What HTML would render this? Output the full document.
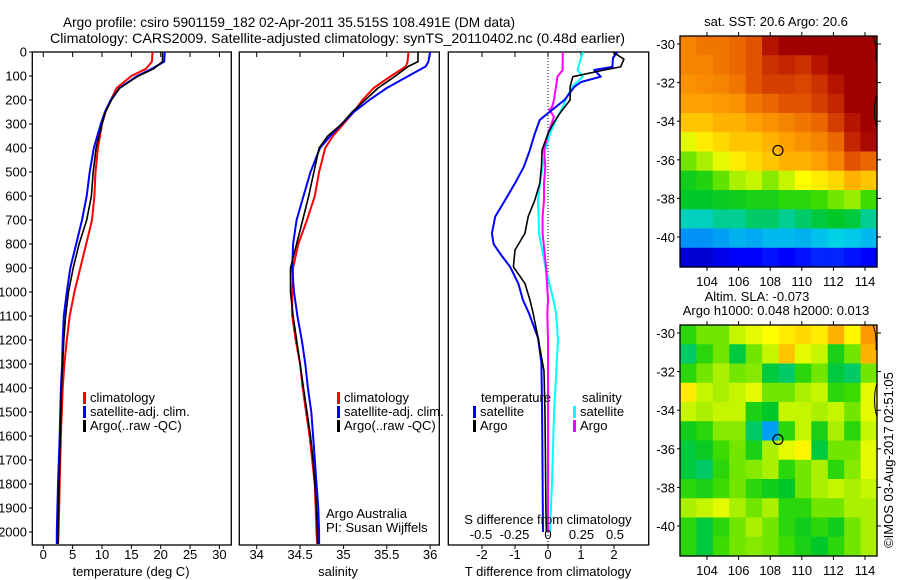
<!DOCTYPE html>
<html><head><meta charset="utf-8"><style>
html,body{margin:0;padding:0;background:#fff;}
svg{display:block;font-family:"Liberation Sans",Arial,sans-serif;}
text{font-size:13px;fill:#000;}
</style></head><body>
<svg id="chart" width="900" height="580" viewBox="0 0 900 580" xmlns="http://www.w3.org/2000/svg">
<text x="63" y="27" textLength="452" lengthAdjust="spacingAndGlyphs" style="font-size:14px">Argo profile: csiro 5901159_182 02-Apr-2011 35.515S 108.491E (DM data)</text>
<text x="50" y="43" textLength="575" lengthAdjust="spacingAndGlyphs" style="font-size:14px">Climatology: CARS2009. Satellite-adjusted climatology: synTS_20110402.nc (0.48d earlier)</text>
<g id="g"></g>
</svg>
<script>
// ---------------- data ----------------
const tDepth = [0,40,70,100,150,200,250,300,400,500,600,700,800,900,1000,1100,1200,1300,1400,1600,1800,2000,2050];
const tClim  = [18.6,18.5,17.5,15.0,12.5,11.5,10.6,10.0,9.3,8.9,8.7,8.3,7.3,6.3,5.3,4.5,4.0,3.6,3.3,3.0,2.8,2.6,2.5];
const tSat   = [20.7,20.6,18.5,16.0,13.0,11.5,10.5,9.8,8.6,7.9,7.4,6.6,5.6,4.6,4.0,3.5,3.3,3.2,3.0,2.8,2.5,2.3,2.3];
const tArgo  = [20.3,20.3,18.8,16.2,13.0,11.6,10.6,10.0,9.0,8.5,8.2,7.4,6.1,5.1,4.3,3.8,3.5,3.3,3.1,2.9,2.7,2.5,2.5];
const sDepth = [0,40,60,100,150,200,250,300,350,400,500,600,700,800,900,1000,1100,1200,1300,1400,1500,1600,1700,1800,1900,2000,2050];
const sClim  = [35.75,35.74,35.72,35.55,35.35,35.22,35.12,35.0,34.88,34.79,34.72,34.67,34.58,34.48,34.42,34.41,34.41,34.45,34.5,34.53,34.57,34.61,34.64,34.67,34.68,34.69,34.7];
const sSat   = [36.0,35.98,35.95,35.75,35.5,35.3,35.12,34.98,34.85,34.73,34.62,34.54,34.46,34.42,34.41,34.43,34.47,34.52,34.56,34.59,34.63,34.65,34.67,34.69,34.71,34.72,34.72];
const sArgo  = [35.86,35.86,35.75,35.6,35.4,35.25,35.1,34.98,34.82,34.72,34.66,34.6,34.53,34.46,34.39,34.39,34.42,34.46,34.5,34.54,34.58,34.62,34.65,34.67,34.69,34.7,34.7];
const dTDepth = [0,25,62,75,103,125,145,200,255,283,340,408,478,547,617,686,756,800,840,895,964,1033,1088,1192,1296,1500,2000];
const dTSat   = [2.1,1.97,1.95,1.4,1.6,1.0,0.8,0.5,0,-0.25,-0.4,-0.55,-0.73,-1.0,-1.3,-1.6,-1.7,-1.65,-1.45,-1.15,-0.9,-0.76,-0.58,-0.3,-0.2,-0.18,-0.15];
const dTArgoDepth = [0,30,62,75,103,145,200,255,300,340,408,478,547,617,686,756,825,895,964,1033,1088,1192,1330,1510,1930,2000];
const dTArgo  = [1.97,2.3,2.2,1.7,0.75,0.67,0.67,0.36,0.15,0,-0.18,-0.2,-0.25,-0.4,-0.6,-0.7,-1.0,-1.05,-0.7,-0.55,-0.45,-0.3,-0.12,-0.09,-0.06,-0.05];
const dSDepth = [0,75,103,145,200,230,240,270,340,408,478,547,617,686,756,895,1033,1088,1200,1296,1510,1790,2000];
const dSArgo  = [0.11,0.11,0.07,0.06,0.045,0.03,0.01,0.045,0.0,-0.03,-0.02,-0.03,-0.03,-0.04,-0.04,-0.015,0,-0.005,0,0,0,0,0];
const dSSat   = [0.26,0.22,0.26,0.18,0.13,0.11,0.1,0.07,0.015,-0.02,-0.04,-0.06,-0.075,-0.07,-0.067,-0.02,0.04,0.06,0.075,0.065,0.045,0.03,0.015];
const depthTicks = [0,100,200,300,400,500,600,700,800,900,1000,1100,1200,1300,1400,1500,1600,1700,1800,1900,2000];
const tTicks = [0,5,10,15,20,25,30];
const sTicks = [34,34.5,35,35.5,36];
const dTTicks = [-2,-1,0,1,2];
const dSTicks = [-0.5,-0.25,0,0.25,0.5];
const lonTicks = [104,106,108,110,112,114];
const latTicks = [-30,-32,-34,-36,-38,-40];
const sstGrid = [
[0.78,0.8,0.8,0.82,0.85,0.95,1,1,1,1,1,1],
[0.78,0.78,0.8,0.82,0.85,0.9,0.92,0.9,0.95,1,1,1],
[0.76,0.77,0.78,0.8,0.85,0.88,0.88,0.87,0.9,0.95,1,1],
[0.74,0.74,0.75,0.76,0.8,0.82,0.85,0.85,0.88,0.92,1,1],
[0.7,0.7,0.72,0.72,0.74,0.76,0.78,0.8,0.82,0.88,0.95,1],
[0.62,0.66,0.68,0.7,0.7,0.72,0.74,0.76,0.78,0.82,0.92,0.98],
[0.55,0.58,0.62,0.66,0.68,0.7,0.72,0.72,0.74,0.78,0.85,0.82],
[0.47,0.49,0.54,0.58,0.6,0.56,0.6,0.64,0.66,0.68,0.72,0.7],
[0.45,0.45,0.46,0.47,0.48,0.48,0.5,0.5,0.52,0.55,0.57,0.52],
[0.38,0.38,0.4,0.4,0.42,0.42,0.4,0.42,0.44,0.45,0.44,0.4],
[0.28,0.28,0.3,0.32,0.31,0.33,0.33,0.32,0.34,0.36,0.35,0.33],
[0.08,0.08,0.1,0.12,0.12,0.14,0.12,0.14,0.16,0.16,0.14,0.12]];
const slaGrid = [
[0.5,0.55,0.55,0.6,0.62,0.64,0.66,0.68,0.66,0.72,0.65,0.75],
[0.42,0.5,0.55,0.44,0.55,0.6,0.7,0.62,0.6,0.48,0.55,0.72],
[0.5,0.55,0.58,0.55,0.56,0.44,0.42,0.5,0.55,0.44,0.42,0.55],
[0.66,0.6,0.58,0.6,0.62,0.55,0.55,0.58,0.6,0.5,0.52,0.62],
[0.6,0.58,0.6,0.6,0.48,0.45,0.6,0.6,0.58,0.6,0.55,0.62],
[0.47,0.5,0.56,0.56,0.42,0.3,0.5,0.6,0.48,0.58,0.5,0.6],
[0.44,0.46,0.52,0.55,0.48,0.58,0.62,0.65,0.44,0.55,0.55,0.62],
[0.44,0.42,0.5,0.55,0.56,0.58,0.5,0.55,0.58,0.5,0.56,0.62],
[0.5,0.48,0.52,0.55,0.5,0.47,0.45,0.55,0.58,0.6,0.58,0.6],
[0.58,0.6,0.62,0.58,0.55,0.58,0.5,0.5,0.55,0.55,0.58,0.58],
[0.5,0.44,0.5,0.55,0.58,0.55,0.5,0.47,0.5,0.47,0.55,0.58],
[0.5,0.44,0.52,0.55,0.56,0.55,0.52,0.48,0.45,0.5,0.55,0.58]];
const argoLon = 108.491, argoLat = -35.515;

// ---------------- helpers ----------------
const NS = 'http://www.w3.org/2000/svg';
const G = document.getElementById('g');
function mk(tag, attrs, parent){ const e=document.createElementNS(NS,tag); for(const k in attrs) e.setAttribute(k,attrs[k]); (parent||G).appendChild(e); return e; }
const yD = d => 52 + d*0.24;
const xT = v => 43.3 + v*5.87;
const xS = v => 256.7 + (v-34)*86.7;
const xDT = v => 548 + v*33;
const xDS = v => 548 + v*134;
const PY0=52, PY1=545;

function line(xs, ds, fx, color, name, w){
  let p = xs.map((v,i)=>(i?'L':'M')+fx(v).toFixed(1)+','+yD(ds[i]).toFixed(1)).join('');
  const e = mk('path',{d:p,fill:'none',stroke:color,'stroke-width':w||2,'stroke-linejoin':'round'});
  
  
}
function txt(x,y,s,name,anchor,size){
  const e = mk('text',{x:x,y:y,'text-anchor':anchor||'start'});
  if(size) e.style.fontSize=size+'px';
  e.textContent=s;
  
  
  return e;
}
function panel(x0,x1,name){
  const e = mk('rect',{x:x0,y:PY0,width:x1-x0,height:PY1-PY0,fill:'none',stroke:'#000','stroke-width':1.3});
  
  
}
function xAxis(ticks,fx,ylab,name,fmt){
  ticks.forEach(t=>{
    const x=fx(t);
    mk('line',{x1:x,y1:PY0,x2:x,y2:PY0+5,stroke:'#000'});
    mk('line',{x1:x,y1:PY1,x2:x,y2:PY1+4,stroke:'#000'});
    txt(x,ylab,fmt?fmt(t):String(t),name+'-tick-label','middle');
  });
}
function legendEntry(x,y,color,label,name){
  const b = mk('rect',{x:x,y:y-10,width:3,height:12,fill:color});
  
  
  txt(x+7,y,label,name);
}

// ---------------- panel 1 : temperature ----------------
panel(32.3,231.3,'temperature-panel');
depthTicks.forEach(d=>{
  const y=yD(d);
  mk('line',{x1:29,y1:y,x2:32.3,y2:y,stroke:'#000'});
  txt(27,y+4.5,String(d),'depth-tick-label','end');
});
xAxis(tTicks,xT,559,'temperature-axis');
txt(131,576,'temperature (deg C)','temperature-axis-title','middle');
line(tClim,tDepth,xT,'#ff0000','temperature-climatology-line');
line(tSat,tDepth,xT,'#0000ff','temperature-satellite-line');
line(tArgo,tDepth,xT,'#000000','temperature-argo-line',1.6);
legendEntry(83,402,'#ff0000','climatology','legend-climatology');
legendEntry(83,416,'#0000ff','satellite-adj. clim.','legend-satellite-adj');
legendEntry(83,430,'#000000','Argo(..raw -QC)','legend-argo');

// ---------------- panel 2 : salinity ----------------
panel(239.3,439.3,'salinity-panel');
xAxis(sTicks,xS,559,'salinity-axis');
txt(338,576,'salinity','salinity-axis-title','middle');
line(sClim,sDepth,xS,'#ff0000','salinity-climatology-line');
line(sSat,sDepth,xS,'#0000ff','salinity-satellite-line');
line(sArgo,sDepth,xS,'#000000','salinity-argo-line',1.6);
legendEntry(337,402,'#ff0000','climatology','legend2-climatology');
legendEntry(337,416,'#0000ff','satellite-adj. clim.','legend2-satellite-adj');
legendEntry(337,430,'#000000','Argo(..raw -QC)','legend2-argo');
txt(326,518,'Argo Australia','credit-argo-australia');
txt(326,532,'PI: Susan Wijffels','credit-pi');

// ---------------- panel 3 : differences ----------------
panel(448.3,648.7,'difference-panel');
mk('line',{x1:xDT(0),y1:PY0,x2:xDT(0),y2:PY1,stroke:'#000','stroke-dasharray':'1,2'});
dTTicks.forEach(t=>{
  const x=xDT(t);
  mk('line',{x1:x,y1:PY0,x2:x,y2:PY0+5,stroke:'#000'});
  mk('line',{x1:x,y1:PY1,x2:x,y2:PY1+4,stroke:'#000'});
  txt(x,559,String(t),'t-difference-tick-label','middle');
});
line(dSSat,dSDepth,xDS,'#00ffff','s-diff-satellite-line');
line(dSArgo,dSDepth,xDS,'#ff00ff','s-diff-argo-line');
line(dTSat,dTDepth,xDT,'#0000ff','t-diff-satellite-line');
line(dTArgo,dTArgoDepth,xDT,'#000000','t-diff-argo-line',1.6);
dSTicks.forEach(t=>txt(xDS(t),539,String(t),'s-difference-tick-label','middle'));
txt(548,524,'S difference from climatology','s-difference-axis-title','middle');
txt(548,576,'T difference from climatology','t-difference-axis-title','middle');
txt(481,402,'temperature','legend3-temperature-header');
txt(582,402,'salinity','legend3-salinity-header');
legendEntry(473,416,'#0000ff','satellite','legend3-t-satellite');
legendEntry(473,430,'#000000','Argo','legend3-t-argo');
legendEntry(573,416,'#00ffff','satellite','legend3-s-satellite');
legendEntry(573,430,'#ff00ff','Argo','legend3-s-argo');

// ---------------- maps ----------------
const cstops=[[0,[0,0,128]],[0.12,[0,0,255]],[0.25,[0,120,255]],[0.36,[0,210,230]],[0.45,[0,200,40]],[0.52,[60,220,0]],[0.58,[170,240,0]],[0.64,[255,255,0]],[0.74,[255,160,0]],[0.84,[230,90,0]],[0.93,[190,30,0]],[1,[160,0,0]]];
function cmap(v){
  for(let i=1;i<cstops.length;i++){
    if(v<=cstops[i][0]){
      const a=cstops[i-1],b=cstops[i],f=(v-a[0])/(b[0]-a[0]);
      return 'rgb('+a[1].map((c,k)=>Math.round(c+(b[1][k]-c)*f)).join(',')+')';
    }
  }
  return 'rgb(160,0,0)';
}
function map(top, grid, name){
  const X0=680,X1=877,Y0=top,Y1=top+231;
  const xL = lon => 707 + (lon-104)*15.8;
  const yL = lat => Y0 + 8 + (-30-lat)*19.3;
  const g = mk('g',{});
  
  
  const rows=grid.length, cols=grid[0].length;
  const cw=(X1-X0)/cols, ch=(Y1-Y0)/rows;
  grid.forEach((r,i)=>r.forEach((v,j)=>{
    const c=mk('rect',{x:(X0+j*cw).toFixed(2),y:(Y0+i*ch).toFixed(2),width:(cw+0.6).toFixed(2),height:(ch+0.6).toFixed(2),fill:cmap(v)},g);
    
    
  }));
  mk('path',{d:`M${X1-4},${Y0} Q${X1},${Y0+10} ${X1-1},${Y0+25} M${X1},${Y0+58} Q${X1-5},${Y0+75} ${X1},${Y0+92}`,fill:'none',stroke:'#000','stroke-width':1},g);
  const fr=mk('rect',{x:X0,y:Y0,width:X1-X0,height:Y1-Y0,fill:'none',stroke:'#000','stroke-width':1.3},g);
  
  
  lonTicks.forEach(l=>{
    const x=xL(l);
    mk('line',{x1:x,y1:Y0-4,x2:x,y2:Y0,stroke:'#000'},g);
    mk('line',{x1:x,y1:Y1,x2:x,y2:Y1+4,stroke:'#000'},g);
    txt(x,Y1+19,String(l),name+'-lon-label','middle');
  });
  latTicks.forEach(l=>{
    const y=yL(l);
    mk('line',{x1:X0-3,y1:y,x2:X0,y2:y,stroke:'#000'},g);
    mk('line',{x1:X1,y1:y,x2:X1+4,y2:y,stroke:'#000'},g);
    txt(X0-5,y+5,String(l),name+'-lat-label','end');
  });
  const m=mk('circle',{cx:xL(argoLon),cy:yL(argoLat),r:5,fill:'none',stroke:'#000','stroke-width':1.2},g);
  
  
}
map(36, sstGrid, 'sst-map');
map(325, slaGrid, 'sla-map');
txt(776,26,'sat. SST: 20.6 Argo: 20.6','sst-map-title','middle');
txt(757,301,'Altim. SLA: -0.073','sla-map-title','middle');
txt(776,315,'Argo h1000: 0.048 h2000: 0.013','sla-map-subtitle','middle');
const cr = txt(0,0,'©IMOS 03-Aug-2017 02:51:05','imos-credit','middle');
cr.setAttribute('transform','translate(893,460) rotate(-90)');
</script>
</body></html>
